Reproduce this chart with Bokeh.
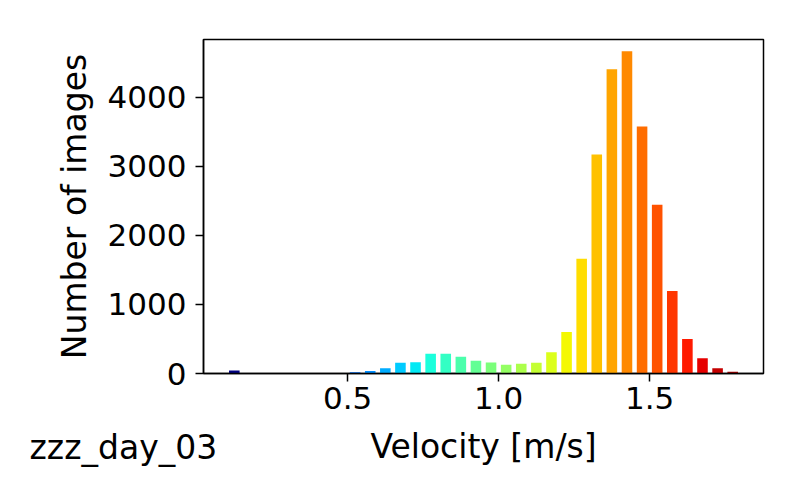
from bokeh.plotting import figure
from bokeh.models import ColumnDataSource, Range1d, FixedTicker, Label, PrintfTickFormatter
from bokeh.embed import file_html
from bokeh.resources import INLINE

# ---- data ----
velocity_bins = [0.125, 0.175, 0.225, 0.275, 0.325, 0.375, 0.425, 0.475,
                 0.525, 0.575, 0.625, 0.675, 0.725, 0.775, 0.825, 0.875,
                 0.925, 0.975, 1.025, 1.075, 1.125, 1.175, 1.225, 1.275,
                 1.325, 1.375, 1.425, 1.475, 1.525, 1.575, 1.625, 1.675,
                 1.725, 1.775]
image_counts = [45, 0, 0, 0, 0, 0, 0, 0,
                19, 35, 77, 154, 164, 285, 285, 241,
                183, 160, 125, 140, 154, 309, 599, 1659,
                3168, 4402, 4663, 3575, 2443, 1195, 498, 222,
                77, 24]
x_ticks = [0.5, 1.0, 1.5]
y_ticks = [0, 1000, 2000, 3000, 4000]
x_label = "Velocity [m/s]"
y_label = "Number of images"
tag_text = "zzz_day_03"

# ---- matplotlib 'jet' colormap ----
_jet = {
    "r": [(0.0, 0.0), (0.35, 0.0), (0.66, 1.0), (0.89, 1.0), (1.0, 0.5)],
    "g": [(0.0, 0.0), (0.125, 0.0), (0.375, 1.0), (0.64, 1.0), (0.91, 0.0), (1.0, 0.0)],
    "b": [(0.0, 0.5), (0.11, 1.0), (0.34, 1.0), (0.65, 0.0), (1.0, 0.0)],
}


def _interp(pts, t):
    for (x0, y0), (x1, y1) in zip(pts[:-1], pts[1:]):
        if x0 <= t <= x1:
            return y0 + (y1 - y0) * (t - x0) / (x1 - x0) if x1 > x0 else y1
    return pts[-1][1]


def jet(t):
    r, g, b = (_interp(_jet[c], t) for c in "rgb")
    return "#%02x%02x%02x" % (round(r * 255), round(g * 255), round(b * 255))


n = len(velocity_bins)
colors = [jet(i / n) for i in range(n)]

src = ColumnDataSource(dict(x=velocity_bins, top=image_counts, color=colors))

FONT = "DejaVu Sans"

p = figure(width=784, height=484, output_backend="svg", toolbar_location=None,
           x_range=Range1d(0.023, 1.877), y_range=Range1d(0, 4834),
           min_border_left=203, min_border_right=21, min_border_top=36,
           min_border_bottom=111)

p.vbar(x="x", top="top", bottom=0, width=0.035, color="color", source=src,
       line_color=None)

p.xgrid.visible = False
p.ygrid.visible = False
p.outline_line_color = "black"
p.outline_line_width = 1.5
p.background_fill_color = "white"
p.border_fill_color = "white"

for ax in (p.xaxis[0], p.yaxis[0]):
    ax.axis_line_color = "black"
    ax.axis_line_width = 1.5
    ax.major_tick_line_color = "black"
    ax.major_tick_line_width = 1.5
    ax.major_tick_out = 8
    ax.major_tick_in = 0
    ax.minor_tick_line_color = None
    ax.major_label_text_font = FONT
    ax.major_label_text_font_size = "31px"
    ax.major_label_text_color = "black"
    ax.axis_label_text_font = FONT
    ax.axis_label_text_font_size = "33px"
    ax.axis_label_text_font_style = "normal"
    ax.axis_label_text_color = "black"

p.xaxis.ticker = FixedTicker(ticks=x_ticks)
p.yaxis.ticker = FixedTicker(ticks=y_ticks)
p.xaxis.formatter = PrintfTickFormatter(format="%.1f")
p.xaxis.axis_label = x_label
p.yaxis.axis_label = y_label
p.xaxis.major_label_standoff = 5
p.xaxis.axis_label_standoff = 15
p.yaxis.major_label_standoff = 9
p.yaxis.axis_label_standoff = 11

# free-standing tag placed in canvas coordinates (side panel avoids frame clipping)
p.add_layout(Label(x=29, y=447, x_units="canvas", y_units="canvas",
                   text=tag_text, text_font=FONT, text_font_size="33px",
                   text_color="black", text_baseline="middle",
                   text_align="left"), "above")

open("out.html", "w").write(file_html(p, INLINE))
